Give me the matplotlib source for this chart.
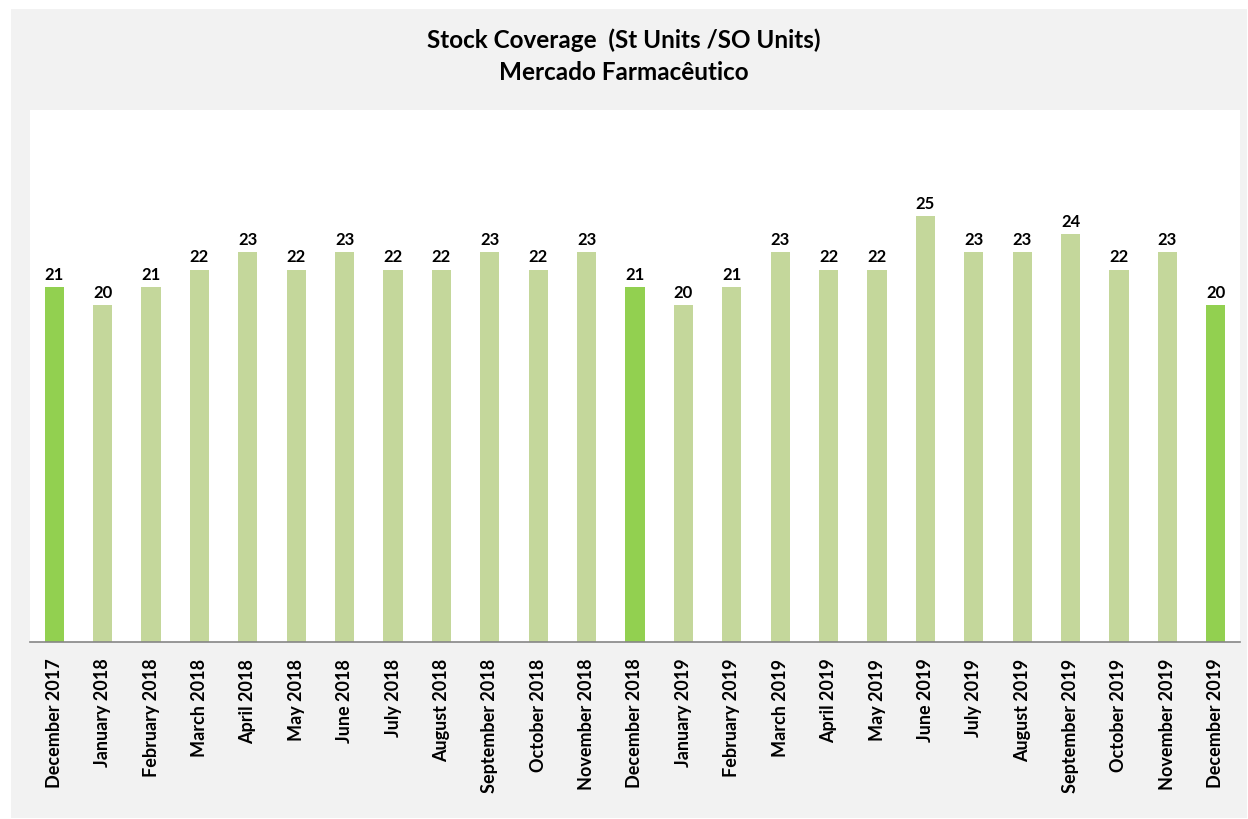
import matplotlib
matplotlib.use("Agg")
import matplotlib.pyplot as plt
from matplotlib.patches import Rectangle

months = ["December 2017", "January 2018", "February 2018", "March 2018", "April 2018",
          "May 2018", "June 2018", "July 2018", "August 2018", "September 2018",
          "October 2018", "November 2018", "December 2018", "January 2019", "February 2019",
          "March 2019", "April 2019", "May 2019", "June 2019", "July 2019",
          "August 2019", "September 2019", "October 2019", "November 2019", "December 2019"]
coverage = [21, 20, 21, 22, 23, 22, 23, 22, 22, 23, 22, 23, 21,
            20, 21, 23, 22, 22, 25, 23, 23, 24, 22, 23, 20]
highlight = [m.startswith("December") for m in months]

HL = "#92D050"
LIGHT = "#C4D79B"
FONT = ["Lato", "DejaVu Sans"]

W, H = 1248, 819
fig = plt.figure(figsize=(W / 100, H / 100), dpi=100, facecolor="white")
fig.patches.append(Rectangle((11 / W, 1 - 818 / H), (1247 - 11) / W, (818 - 9) / H,
                             transform=fig.transFigure, facecolor="#F2F2F2",
                             edgecolor="none", zorder=-10))

ax = fig.add_axes([30 / W, 1 - 642 / H, (1240 - 30) / W, (642 - 110) / H])
ax.set_facecolor("white")

x = list(range(len(months)))
colors = [HL if h else LIGHT for h in highlight]
bars = ax.bar(x, coverage, width=0.4, color=colors, zorder=2)

ax.set_xlim(-0.5, len(months) - 0.5)
ax.set_ylim(1, 31)

for xi, v in zip(x, coverage):
    ax.annotate(f"{v}", (xi, v), xytext=(0, 3), textcoords="offset points",
                ha="center", va="bottom", fontsize=12, fontweight="bold",
                family=FONT, color="#000000")

ax.set_xticks(x)
ax.set_xticklabels(months, rotation=90, fontsize=13, fontweight="bold", family=FONT)
ax.tick_params(axis="x", length=0, pad=12)
ax.set_yticks([])
for s in ["top", "right", "left"]:
    ax.spines[s].set_visible(False)
ax.spines["bottom"].set_color("#868686")
ax.spines["bottom"].set_linewidth(1.2)

fig.text(0.5, 1 - 40 / H, "Stock Coverage  (St Units /SO Units)", ha="center", va="center",
         fontsize=17.5, fontweight="bold", family=FONT)
fig.text(0.5, 1 - 72 / H, "Mercado Farmacêutico", ha="center", va="center",
         fontsize=17.5, fontweight="bold", family=FONT)

fig.savefig("out.png", dpi=100, facecolor="white")
